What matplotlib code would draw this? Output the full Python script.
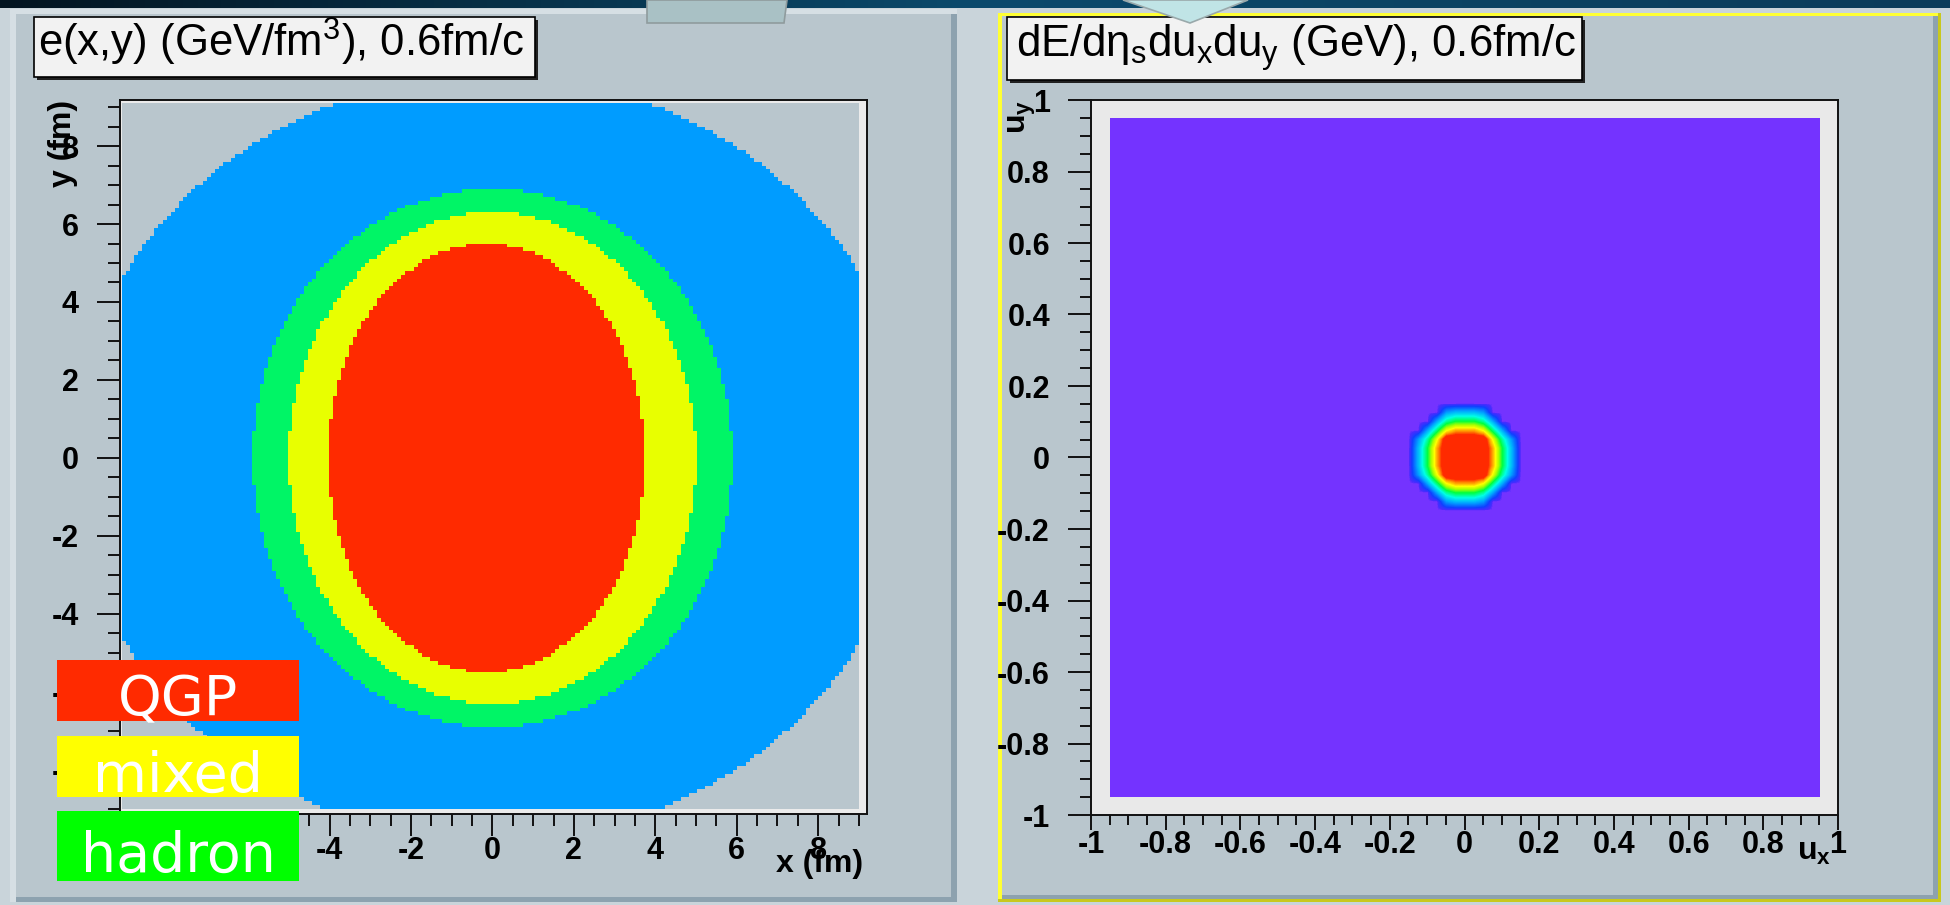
import numpy as np
import matplotlib
matplotlib.use("Agg")
import matplotlib.pyplot as plt
from matplotlib.colors import ListedColormap, LinearSegmentedColormap
from matplotlib.patches import Rectangle, Polygon
from matplotlib.ticker import MultipleLocator, FuncFormatter

plt.rcParams['font.family'] = ['Liberation Sans', 'DejaVu Sans']
plt.rcParams['axes.unicode_minus'] = False
plt.rcParams['mathtext.fontset'] = 'custom'
plt.rcParams['mathtext.rm'] = 'Liberation Sans'
plt.rcParams['mathtext.it'] = 'Liberation Sans:italic'
plt.rcParams['mathtext.bf'] = 'Liberation Sans:bold'

# -------------------------- Data --------------------------

# left panel: e(x,y) zones as ellipses (fm), outermost first
zone_colors = ['#b9c6cd', '#009cff', '#00f566', '#e8ff00', '#ff2a00']
zone_x0 = [0.0, 0.0, 0.0, -0.15]
zone_rx = [10.3, 5.9, 5.0, 3.9]
zone_ry = [9.8, 6.9, 6.3, 5.5]

# legend boxes
legend_labels = ['QGP', 'mixed', 'hadron']
legend_colors = ['#ff2a00', '#ffff00', '#00ff00']

# right panel: dE/deta du_x du_y (relative), one quarter around u=0,
# nodes every 0.025 from 0 to 0.15 (rows: u_y, columns: u_x)
hot_quarter = np.array([
    [1.0, 1.0, 1.0, 0.8, 0.5, 0.25, 0.0],
    [1.0, 1.0, 1.0, 0.8, 0.5, 0.25, 0.0],
    [1.0, 1.0, 1.0, 0.7, 0.42, 0.2, 0.0],
    [0.8, 0.8, 0.7, 0.45, 0.22, 0.0, 0.0],
    [0.5, 0.5, 0.42, 0.22, 0.0, 0.0, 0.0],
    [0.25, 0.25, 0.2, 0.0, 0.0, 0.0, 0.0],
    [0.0, 0.0, 0.0, 0.0, 0.0, 0.0, 0.0],
])
u_nodes = np.linspace(-0.95, 0.95, 77)

left_title = r'e(x,y) (GeV/fm$^{\mathrm{3}}$), 0.6fm/c'
right_title = r'dE/d$\mathrm{\eta_{s}}$du$_{\mathrm{x}}$du$_{\mathrm{y}}$ (GeV), 0.6fm/c'

# -------------------------- Figure / slide decoration --------------------------

W, H = 1950, 905
fig = plt.figure(figsize=(W / 100, H / 100), dpi=100, facecolor='#c9d4da')

def box(x0, y0, x1, y1, **kw):
    r = Rectangle((x0 / W, 1 - y1 / H), (x1 - x0) / W, (y1 - y0) / H,
                  transform=fig.transFigure, **kw)
    fig.add_artist(r)
    return r

def poly(pts, **kw):
    p = Polygon([(x / W, 1 - y / H) for x, y in pts], closed=True,
                transform=fig.transFigure, **kw)
    fig.add_artist(p)

def ftext(x, y, s, **kw):
    return fig.text(x / W, 1 - y / H, s, **kw)

# dark band on top of the slide
band = fig.add_axes([0, 1 - 8 / H, 1, 8 / H], zorder=-2)
band.imshow(np.linspace(0, 1, 256)[None, :], aspect='auto',
            cmap=LinearSegmentedColormap.from_list('band', ['#021420', '#0b4a6c', '#0a3c5a']))
band.axis('off')

# left canvas
box(10, 9, 957, 902, facecolor='#d6dfe4', edgecolor='none', zorder=-1)
box(16, 14, 957, 902, facecolor='#8da2af', edgecolor='none', zorder=-1)
box(16, 14, 951, 897, facecolor='#b9c6cd', edgecolor='none', zorder=-1)

# right canvas (selected, yellow outline)
box(998, 13, 1941, 902, facecolor='#c8c81e', edgecolor='none', zorder=-1)
box(998, 13, 1938, 899, facecolor='#ffff33', edgecolor='none', zorder=-1)
box(1002, 16, 1938, 899, facecolor='#8da2af', edgecolor='none', zorder=-1)
box(1002, 16, 1933, 895, facecolor='#b9c6cd', edgecolor='none', zorder=-1)

# tabs from the slide
poly([(647, 0), (787, 0), (784, 23), (647, 23)], facecolor='#a9c1c5', edgecolor='#8f9b9d', lw=1.2, zorder=6)
poly([(1123, 0), (1248, 0), (1190, 23)], facecolor='#c0e4e6', edgecolor='#9aa9ab', lw=1.2, zorder=6)

# title boxes
for x0, x1, y1, title, tx in [(34, 535, 77, left_title, 38), (1007, 1582, 80, right_title, 1016)]:
    box(x0 + 3, 20, x1 + 3, y1 + 3, facecolor='#202020', edgecolor='none', zorder=5)
    box(x0, 17, x1, y1, facecolor='#f2f2f2', edgecolor='black', lw=1.2, zorder=5)
    ftext(tx, 57, title, fontsize=31.5, ha='left', va='baseline', zorder=6)

# -------------------------- Left: e(x,y) --------------------------

ax1 = fig.add_axes([120 / W, 1 - 814 / H, 747 / W, 714 / H])
ax1.set_facecolor('#ebebeb')
xe = np.linspace(-9.1, 9.0, 183)
ye = np.linspace(-9.0, 9.1, 182)
xc = 0.5 * (xe[:-1] + xe[1:])
yc = 0.5 * (ye[:-1] + ye[1:])
X, Y = np.meshgrid(xc, yc)
level = np.zeros(X.shape)
for k, (x0, rx, ry) in enumerate(zip(zone_x0, zone_rx, zone_ry)):
    inside = ((X - x0) / rx) ** 2 + (Y / ry) ** 2 <= 1.0
    level[inside] = k + 1
ax1.pcolormesh(xe, ye, level, cmap=ListedColormap(zone_colors), vmin=-0.5, vmax=4.5)
ax1.set_xlim(-9.15, 9.2)
ax1.set_ylim(-9.13, 9.18)

# -------------------------- Right: dE/deta du_x du_y --------------------------

ax2 = fig.add_axes([1091 / W, 1 - 815 / H, 747 / W, 715 / H])
ax2.set_facecolor('#e9e9e9')
upper = np.hstack([hot_quarter[:, :0:-1], hot_quarter])
hot_spot = np.vstack([upper[:0:-1], upper])
field = np.zeros((len(u_nodes), len(u_nodes)))
i0 = len(u_nodes) // 2 - 6
field[i0:i0 + 13, i0:i0 + 13] = hot_spot
palette = LinearSegmentedColormap.from_list('root', [
    (0.0, '#7433ff'), (0.015, '#4a2cff'), (0.08, '#1040ff'), (0.22, '#00a8ff'),
    (0.36, '#00ffe6'), (0.5, '#00ff40'), (0.62, '#a8ff00'), (0.72, '#ffff00'),
    (0.82, '#ff9a00'), (0.9, '#ff2a00'), (1.0, '#ff2a00')])
half = 0.5 * (u_nodes[1] - u_nodes[0])
im = ax2.imshow(field, origin='lower', cmap=palette, vmin=0, vmax=1,
                interpolation='bilinear', interpolation_stage='data',
                extent=(u_nodes[0] - half, u_nodes[-1] + half, u_nodes[0] - half, u_nodes[-1] + half),
                aspect='auto')
im.set_clip_path(Rectangle((u_nodes[0], u_nodes[0]), u_nodes[-1] - u_nodes[0],
                           u_nodes[-1] - u_nodes[0], transform=ax2.transData))
ax2.set_xlim(-1, 1)
ax2.set_ylim(-1, 1)

# -------------------------- Axis styling (ROOT look) --------------------------

fmt = FuncFormatter(lambda v, p: f'{round(v, 6) + 0:g}')

def root_axes(ax, major, minor, xlen, ylen):
    for s in ax.spines.values():
        s.set_linewidth(1.4)
        s.set_color('#111111')
    ax.xaxis.set_major_locator(MultipleLocator(major))
    ax.xaxis.set_minor_locator(MultipleLocator(minor))
    ax.yaxis.set_major_locator(MultipleLocator(major))
    ax.yaxis.set_minor_locator(MultipleLocator(minor))
    ax.xaxis.set_major_formatter(fmt)
    ax.yaxis.set_major_formatter(fmt)
    ax.tick_params(which='both', direction='out', top=False, right=False, width=1.4, color='#111111')
    ax.tick_params(axis='x', which='major', length=xlen[0] * 0.72, pad=0)
    ax.tick_params(axis='x', which='minor', length=xlen[1] * 0.72)
    ax.tick_params(axis='y', which='major', length=ylen[0] * 0.72, pad=13)
    ax.tick_params(axis='y', which='minor', length=ylen[1] * 0.72)
    for lab in ax.get_xticklabels() + ax.get_yticklabels():
        lab.set_fontweight('bold')
        lab.set_fontsize(22)

root_axes(ax1, 2, 0.5, (22, 12), (23, 12))
root_axes(ax2, 0.2, 0.05, (15, 10), (23, 11))

# axis titles
ftext(63, 100, 'y (fm)', fontsize=23, fontweight='bold', rotation=90, ha='center', va='top', zorder=6)
ftext(863, 864, 'x (fm)', fontsize=23, fontweight='bold', ha='right', va='center', zorder=6)
ftext(1022, 100, r'$\mathbf{u}_{\mathbf{y}}$', fontsize=23, rotation=90, ha='center', va='top', zorder=6)
ftext(1831, 852, r'$\mathbf{u}_{\mathbf{x}}$', fontsize=23, ha='right', va='center', zorder=6)

# legend boxes over the left canvas
legend_top = [660, 736, 811]
legend_bottom = [721, 797, 881]
legend_base = [715, 792, 872]
for lab, col, t, b, bl in zip(legend_labels, legend_colors, legend_top, legend_bottom, legend_base):
    box(57, t, 299, b, facecolor=col, edgecolor='none', zorder=7)
    ftext(178, bl, lab, fontsize=40, color='white', family='DejaVu Sans',
          ha='center', va='baseline', zorder=8)

fig.savefig('out.png', dpi=100, facecolor=fig.get_facecolor())
